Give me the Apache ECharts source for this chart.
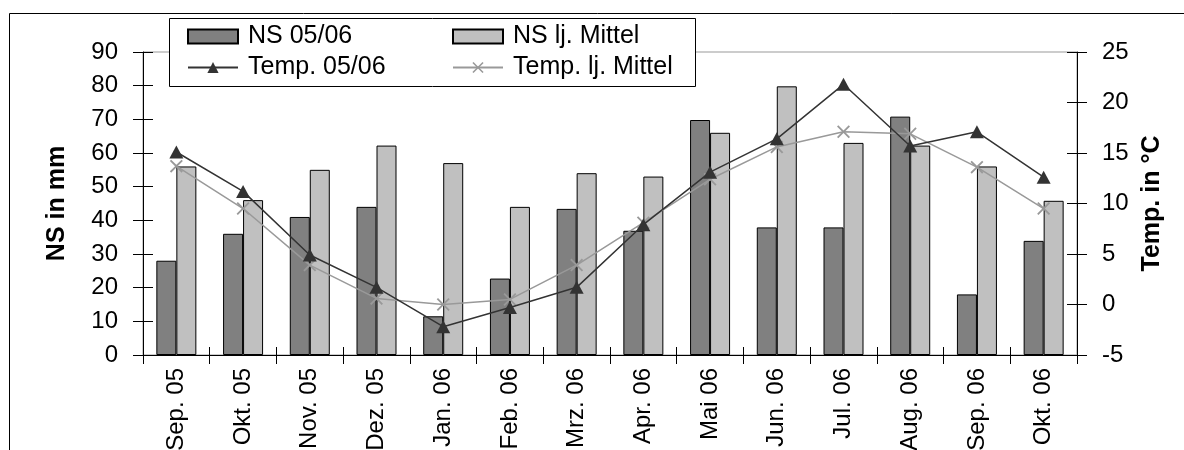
<!DOCTYPE html>
<html>
<head>
<meta charset="utf-8">
<script src="https://cdn.jsdelivr.net/npm/echarts@6/dist/echarts.min.js"></script>
<style>
  html, body { margin: 0; padding: 0; background: #fff; }
  #chart { width: 1184px; height: 450px; }
</style>
</head>
<body>
<div id="chart"></div>
<script>
// Monate
var months = ['Sep. 05', 'Okt. 05', 'Nov. 05', 'Dez. 05', 'Jan. 06', 'Feb. 06', 'Mrz. 06',
  'Apr. 06', 'Mai 06', 'Jun. 06', 'Jul. 06', 'Aug. 06', 'Sep. 06', 'Okt. 06'];
// Niederschlag (mm)
var nsAktuell = [28, 36, 41, 44, 11.5, 22.7, 43.4, 36.9, 69.8, 37.9, 37.9, 70.8, 18, 33.9];
var nsMittel = [56, 46, 55, 62.2, 57, 44, 54, 53, 66, 79.8, 63, 62.2, 56, 45.8];
// Temperatur (°C)
var tempAktuell = [15.1, 11.2, 4.9, 1.7, -2.2, -0.3, 1.7, 7.9, 13.1, 16.4, 21.8, 15.7, 17.1, 12.6];
var tempMittel = [13.7, 9.5, 3.9, 0.6, 0.0, 0.5, 3.9, 8.1, 12.4, 15.6, 17.1, 16.9, 13.6, 9.5];

var font = '"Liberation Sans", Arial, sans-serif';
var crossPath = 'path://M0,1L1,0L5,4L9,0L10,1L6,5L10,9L9,10L5,6L1,10L0,9L4,5Z';

function legendItem(name, left, top, icon) {
  var l = {
    data: [name],
    left: left,
    top: top,
    padding: 0,
    z: 6,
    itemWidth: 50,
    itemHeight: 14,
    itemGap: 10,
    textStyle: { fontFamily: font, fontSize: 25, color: '#000', padding: [0, 0, 0, 5] }
  };
  if (icon) l.icon = icon;
  return l;
}

var option = {
  animation: false,
  backgroundColor: '#fff',
  textStyle: { fontFamily: font },
  grid: {
    left: 143, right: 107, top: 52, bottom: 95,
    outerBoundsMode: 'none',
    show: true, borderColor: '#999', borderWidth: 1
  },
  graphic: [
    {
      type: 'rect', left: 7, top: 11, z: -10,
      shape: { width: 1300, height: 600 },
      style: { fill: 'none', stroke: '#000', lineWidth: 1 }
    },
    {
      type: 'rect', left: 169, top: 18, z: 3,
      shape: { width: 526, height: 68 },
      style: { fill: '#fff', stroke: '#000', lineWidth: 1 }
    }
  ],
  legend: [
    legendItem('NS 05/06', 187, 24, 'rect'),
    legendItem('NS lj. Mittel', 452, 24, 'rect'),
    legendItem('Temp. 05/06', 187, 55),
    legendItem('Temp. lj. Mittel', 452, 55)
  ],
  xAxis: [
    {
      type: 'category',
      data: months,
      axisLine: { onZero: false, lineStyle: { color: '#000', width: 1 } },
      axisTick: { show: true, length: 9, lineStyle: { color: '#000' } },
      axisLabel: { rotate: 90, margin: 13, fontSize: 24, color: '#000', fontFamily: font }
    },
    {
      type: 'category',
      data: months,
      position: 'bottom',
      offset: 0,
      axisLine: { show: false, onZero: false },
      axisTick: { show: true, inside: true, length: 8, lineStyle: { color: '#000' } },
      axisLabel: { show: false }
    }
  ],
  yAxis: [
    {
      type: 'value', min: 0, max: 90, interval: 10,
      name: 'NS in mm', nameLocation: 'middle', nameGap: 73, nameRotate: 90,
      nameTextStyle: { fontSize: 25, fontWeight: 'bold', color: '#000', fontFamily: font },
      axisLine: { show: true, lineStyle: { color: '#000' } },
      axisTick: { show: true, length: 10, lineStyle: { color: '#000' } },
      axisLabel: { margin: 25, fontSize: 24, color: '#000', fontFamily: font },
      splitLine: { show: false }
    },
    {
      type: 'value', min: -5, max: 25, interval: 5, position: 'right',
      name: 'Temp. in °C', nameLocation: 'middle', nameGap: 62, nameRotate: 90,
      nameTextStyle: { fontSize: 25, fontWeight: 'bold', color: '#000', fontFamily: font },
      axisLine: { show: true, lineStyle: { color: '#000' } },
      axisTick: { show: true, length: 10, lineStyle: { color: '#000' } },
      axisLabel: { margin: 25, fontSize: 24, color: '#000', fontFamily: font },
      splitLine: { show: false }
    },
    {
      type: 'value', min: 0, max: 90, interval: 10, position: 'left', offset: 0,
      axisLine: { show: false },
      axisTick: { show: true, inside: true, length: 10, lineStyle: { color: '#000' } },
      axisLabel: { show: false },
      splitLine: { show: false }
    },
    {
      type: 'value', min: -5, max: 25, interval: 5, position: 'right', offset: 0,
      axisLine: { show: false },
      axisTick: { show: true, inside: true, length: 10, lineStyle: { color: '#000' } },
      axisLabel: { show: false },
      splitLine: { show: false }
    }
  ],
  series: [
    {
      name: 'NS 05/06',
      type: 'bar',
      data: nsAktuell,
      barWidth: 20,
      barGap: '0%',
      itemStyle: { color: '#808080', borderColor: '#000', borderWidth: 1 }
    },
    {
      name: 'NS lj. Mittel',
      type: 'bar',
      data: nsMittel,
      barWidth: 20,
      barGap: '0%',
      itemStyle: { color: '#c0c0c0', borderColor: '#000', borderWidth: 1 }
    },
    {
      name: 'Temp. 05/06',
      type: 'line',
      yAxisIndex: 1,
      data: tempAktuell,
      symbol: 'triangle',
      symbolSize: [14, 13],
      z: 4,
      lineStyle: { color: '#333', width: 1.5 },
      itemStyle: { color: '#333' }
    },
    {
      name: 'Temp. lj. Mittel',
      type: 'line',
      yAxisIndex: 1,
      data: tempMittel,
      symbol: crossPath,
      symbolSize: 13,
      z: 3,
      lineStyle: { color: '#999', width: 1.5 },
      itemStyle: { color: '#999' }
    }
  ]
};

var myChart = echarts.init(document.getElementById('chart'));
myChart.setOption(option);
</script>
</body>
</html>
